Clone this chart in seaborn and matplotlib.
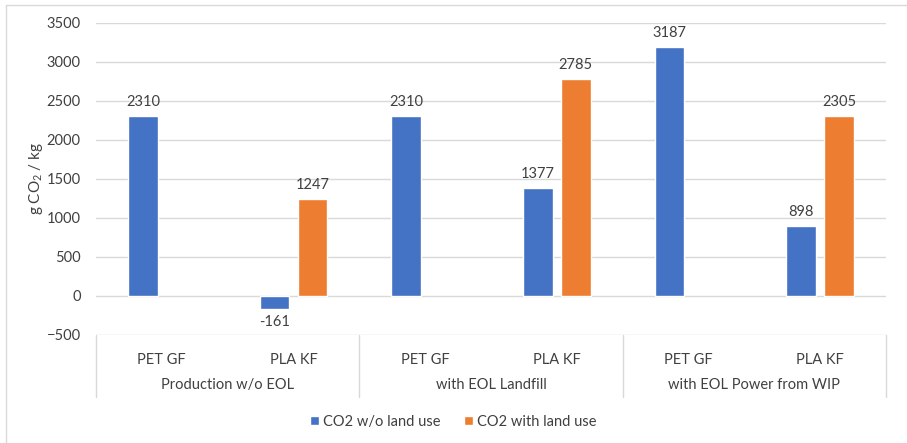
import matplotlib
matplotlib.use("Agg")
import matplotlib.pyplot as plt
import matplotlib.transforms as mtransforms
from matplotlib.lines import Line2D
import seaborn as sns
import pandas as pd
import numpy as np

# --- DATA ---
groups = ["Production w/o EOL", "with EOL Landfill", "with EOL Power from WIP"]
materials = ["PET GF", "PLA KF"]
series = ["CO2 w/o land use", "CO2 with land use"]
co2_without_land = [2310, -161, 2310, 1377, 3187, 898]
co2_with_land = [np.nan, 1247, np.nan, 2785, np.nan, 2305]
y_ticks = [-500, 0, 500, 1000, 1500, 2000, 2500, 3000, 3500]

colors = ["#4472C4", "#ED7D31"]

# build long table for seaborn
cats = [f"{g}|{m}" for g in groups for m in materials]
df = pd.DataFrame({
    "cat": cats * 2,
    "series": [series[0]] * len(cats) + [series[1]] * len(cats),
    "value": co2_without_land + co2_with_land,
})

sns.set_style("white")
plt.rcParams["font.family"] = ["Lato", "DejaVu Sans"]
plt.rcParams["mathtext.default"] = "regular"

fig = plt.figure(figsize=(9.07, 4.43), dpi=100)
ax = fig.add_axes([0.1058, 0.2438, 0.8710, 0.7050])

sns.barplot(data=df.dropna(), x="cat", y="value", hue="series", order=cats,
            hue_order=series, palette=colors, width=0.576, gap=0.22,
            saturation=1, ax=ax, legend=True)

# data labels
for cont in ax.containers:
    ax.bar_label(cont, fmt="{:.0f}", padding=5, fontsize=10.5, color="#404040")

# axes styling
ax.set_ylim(-500, 3500)
ax.set_xlim(-0.5, len(cats) - 0.5)
ax.set_yticks(y_ticks)
ax.yaxis.grid(True, color="#d9d9d9", linewidth=1)
ax.set_axisbelow(True)
for s in ax.spines.values():
    s.set_visible(False)
ax.tick_params(axis="y", length=0, pad=11, labelsize=10.5, labelcolor="#404040")
ax.set_ylabel("g CO$_2$ / kg", fontsize=11, color="#404040", labelpad=1)
ax.set_xlabel("")

# multi-level category axis
ax.set_xticks(range(len(cats)))
ax.set_xticklabels([c.split("|")[1] for c in cats])
ax.tick_params(axis="x", length=0, pad=13, labelsize=10.5, labelcolor="#404040")

trans = mtransforms.blended_transform_factory(ax.transData, ax.transAxes)
box_bottom = -0.199
for i in range(len(groups) + 1):
    xpos = -0.5 + 2 * i
    ax.add_line(Line2D([xpos, xpos], [0, box_bottom], transform=trans,
                       color="#d9d9d9", linewidth=1, clip_on=False))
for i, g in enumerate(groups):
    ax.text(0.5 + 2 * i, -0.16, g, transform=trans, ha="center", va="center",
            fontsize=10.5, color="#404040")

# legend
handles, labels = ax.get_legend_handles_labels()
ax.get_legend().remove()
fig.legend(handles, labels, loc="center", bbox_to_anchor=(0.5, 0.048),
           ncol=2, frameon=False, fontsize=10.5, handlelength=0.6,
           handleheight=0.6, handletextpad=0.3, columnspacing=1.6,
           labelcolor="#404040")

# outer chart border (left and top visible)
fig.add_artist(Line2D([6 / 907, 6 / 907], [0, 1 - 5 / 443], color="#d9d9d9",
                      linewidth=1, transform=fig.transFigure))
fig.add_artist(Line2D([6 / 907, 1], [1 - 5 / 443, 1 - 5 / 443], color="#d9d9d9",
                      linewidth=1, transform=fig.transFigure))

fig.savefig("out.png", dpi=100)
